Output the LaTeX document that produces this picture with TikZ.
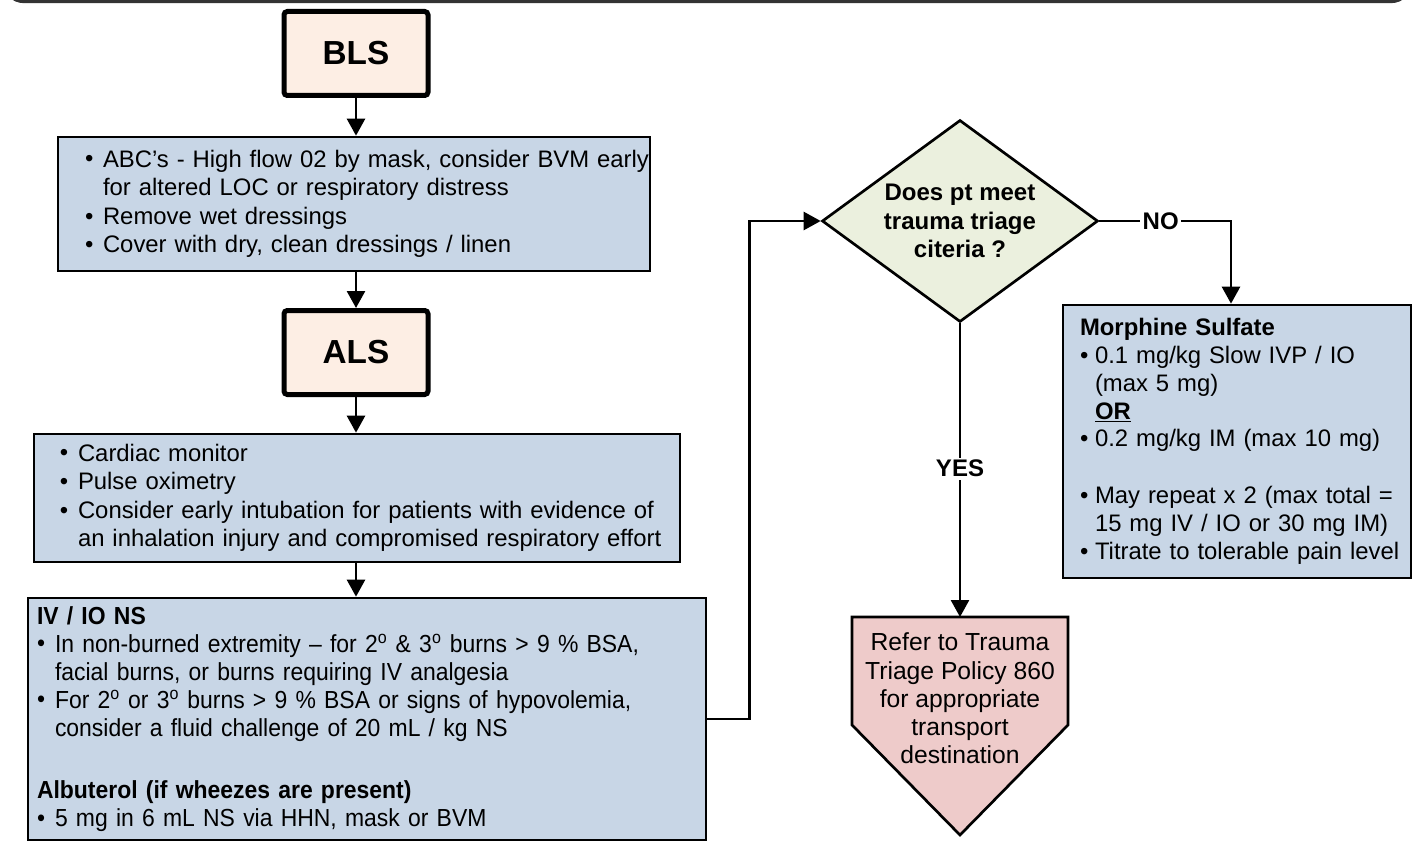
\documentclass[tikz,border=0pt]{standalone}
\usepackage{fontspec}
\usepackage{graphicx}
\setmainfont{Liberation Sans}
\newfontfamily\narrowfont[FakeStretch=0.93]{Liberation Sans}
\usetikzlibrary{arrows.meta,shapes.geometric}
\definecolor{boxblue}{HTML}{C8D6E6}
\definecolor{hdrfill}{HTML}{FDEEE4}
\definecolor{diafill}{HTML}{EBF0DE}
\definecolor{pentfill}{HTML}{EECBCA}
\definecolor{framecol}{HTML}{333333}
\newlength\bulw
\setlength\bulw{13.5pt}
\newcommand\bu{\makebox[\bulw][l]{\raisebox{0.3pt}{•}}}
\newcommand\hang{\hspace*{\bulw}}
\newcommand\li[1]{\mbox{#1}}
\hfuzz=\maxdimen
\hbadness=10000
\tikzset{
  conn/.style={line width=2pt, -{Triangle[width=13.5pt,length=12.75pt]}},
  hdrbox/.style={draw, line width=3.75pt, rounded corners=2.5pt, fill=hdrfill,
    minimum width=108pt, minimum height=63pt,
    font=\fontsize{25}{30}\selectfont\bfseries},
  bluebox/.style={draw, line width=2pt, fill=boxblue, align=left, inner ysep=0pt,
    font=\fontsize{17.9}{21.4}\selectfont},
  diabox/.style={shape=diamond, draw, line width=2pt, fill=diafill, aspect=1.366,
    minimum width=207pt, minimum height=151.5pt, inner sep=0pt, align=center,
    font=\fontsize{18}{21.4}\selectfont\bfseries},
  pentbox/.style={draw, line width=2pt, fill=pentfill, line join=miter},
  reftext/.style={align=center, inner sep=0pt, font=\fontsize{18.5}{21.2}\selectfont},
  lbl/.style={fill=white, inner sep=2pt, font=\fontsize{18}{21}\selectfont\bfseries},
}
\begin{document}
\begin{tikzpicture}[x=0.75pt,y=0.75pt]
\useasboundingbox (0,0) rectangle (1415,-842);
\begin{scope}
\clip (0,0) rectangle (1415,-842);
\draw[line width=2.5pt, framecol, rounded corners=15pt] (4,60) rectangle (1411,-1.5);
\end{scope}

% header boxes
\node[hdrbox] (bls) at (356,-53.5) {BLS};
\node[hdrbox] (als) at (356,-352.5) {ALS};

% blue boxes
\node[bluebox, inner xsep=20.25pt, text width=403.5pt, minimum height=100.5pt] (abc) at (354,-204) {%
\li{\bu ABC’s - High flow 02 by mask, consider BVM early}\\
\li{\hang for altered LOC or respiratory distress}\\
\li{\bu Remove wet dressings}\\
\li{\bu Cover with dry, clean dressings / linen}};

\node[bluebox, inner xsep=19.5pt, text width=445.5pt, minimum height=96pt] (card) at (357,-498) {%
\li{\bu Cardiac monitor}\\
\li{\bu Pulse oximetry}\\
\li{\bu Consider early intubation for patients with evidence of}\\
\li{\hang an inhalation injury and compromised respiratory effort}};

\node[bluebox, inner xsep=6.75pt, text width=495pt, minimum height=181.5pt,
  font=\fontsize{18.5}{21}\selectfont\narrowfont] (iv) at (367,-719) {%
\li{\textbf{IV / IO NS}}\\
\li{\bu In non-burned extremity – for 2\textsuperscript{o} \& 3\textsuperscript{o} burns > 9 \% BSA,}\\
\li{\hang facial burns, or burns requiring IV analgesia}\\
\li{\bu For 2\textsuperscript{o} or 3\textsuperscript{o} burns > 9 \% BSA or signs of hypovolemia,}\\
\li{\hang consider a fluid challenge of 20 mL / kg NS}\\[26pt]
\li{\textbf{Albuterol (if wheezes are present)}}\\
\li{\bu 5 mg in 6 mL NS via HHN, mask or BVM}};

\node[bluebox, inner xsep=12.75pt, text width=235.5pt, minimum height=204.75pt,
  font=\fontsize{17.9}{20.8}\selectfont\setlength\bulw{11.25pt}] (morph) at (1237,-441.5) {%
\li{\textbf{Morphine Sulfate}}\\
\li{\bu 0.1 mg/kg Slow IVP / IO}\\
\li{\hang (max 5 mg)}\\
\li{\hang \textbf{\underline{OR}}}\\
\li{\bu 0.2 mg/kg IM (max 10 mg)}\\[22pt]
\li{\bu May repeat x 2 (max total =}\\
\li{\hang 15 mg IV / IO or 30 mg IM)}\\
\li{\bu Titrate to tolerable pain level}};

% decision
\node[diabox] (dia) at (960,-221) {Does pt meet\\trauma triage\\citeria ?};

% pentagon
\draw[pentbox] (852,-617) -- (1068,-617) -- (1068,-725) -- (960,-835) -- (852,-725) -- cycle;
\coordinate (refertop) at (960,-617);
\node[reftext] (refer) at (960,-698.5) {Refer to Trauma\\Triage Policy 860\\for appropriate\\transport\\destination};

% connectors
\draw[conn] (bls.south) -- (bls.south |- abc.north);
\draw[conn] (abc.south -| bls.south) -- (bls.south |- als.north);
\draw[conn] (als.south) -- (als.south |- card.north);
\draw[conn] (card.south -| als.south) -- (als.south |- iv.north);
\draw[conn] (iv.east) -- ++(42,0) |- (dia.west);
\draw[conn] (dia.east) -| node[lbl, pos=0.233] {NO} ([xshift=-4.5pt]morph.north);
\draw[conn] (dia.south) -- node[lbl, pos=0.495] {YES} (refertop);
\end{tikzpicture}
\end{document}
